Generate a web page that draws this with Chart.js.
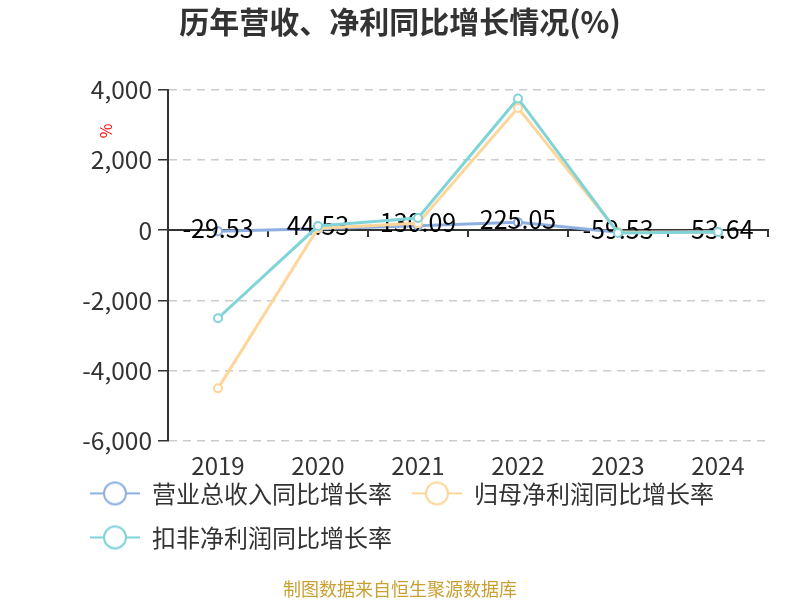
<!DOCTYPE html>
<html lang="zh">
<head>
  <meta charset="utf-8">
  <title>历年营收、净利同比增长情况</title>
  <style type="text/css">
    body { margin: 0; background: #ffffff; }
    #wrap { width: 800px; height: 600px; }
  </style>
  <script src="https://cdn.jsdelivr.net/npm/chart.js@4/dist/chart.umd.min.js"></script>
</head>
<body>
  <div id="wrap"><canvas id="graph" width="800" height="600"></canvas></div>
  <script>
    // data
    var years = ["2019", "2020", "2021", "2022", "2023", "2024"];
    var revenueGrowth = [-29.53, 44.53, 130.09, 225.05, -59.53, -53.64];
    var netProfitGrowth = [-4510, 60, 200, 3490, -60, -50];
    var deductedProfitGrowth = [-2510, 120, 350, 3760, -77, -50];
    var seriesNames = ["营业总收入同比增长率", "归母净利润同比增长率", "扣非净利润同比增长率"];
    var seriesColors = ["#8eb0e0", "#ffd699", "#80d4d8"];
    var yTicks = [4000, 2000, 0, -2000, -4000, -6000];

    var fontFamily = "'Noto Sans CJK SC', 'Noto Sans', sans-serif";
    Chart.defaults.font.family = fontFamily;
    Chart.defaults.color = "#333333";

    // legend icon: short line with a hollow circle, like the original
    function legendIcon(color) {
      var c = document.createElement('canvas');
      c.width = 50;
      c.height = 26;
      var g = c.getContext('2d');
      g.strokeStyle = color;
      g.lineWidth = 2;
      g.beginPath();
      g.moveTo(0, 13);
      g.lineTo(50, 13);
      g.stroke();
      g.fillStyle = '#ffffff';
      g.beginPath();
      g.arc(25, 13, 11, 0, Math.PI * 2);
      g.fill();
      g.stroke();
      return c;
    }
    var icons = seriesColors.map(legendIcon);

    // value labels for the revenue series, drawn right after that line
    var valueLabelPlugin = {
      id: 'valueLabels',
      afterDatasetDraw: function (chart, args) {
        if (args.index !== 0) {
          return;
        }
        var ctx = chart.ctx;
        var meta = chart.getDatasetMeta(0);
        ctx.save();
        ctx.fillStyle = '#000000';
        ctx.font = '25px ' + fontFamily;
        ctx.textAlign = 'center';
        ctx.textBaseline = 'middle';
        meta.data.forEach(function (el, i) {
          ctx.fillText(revenueGrowth[i].toFixed(2), el.x, el.y - 3);
        });
        ctx.restore();
      }
    };

    // red unit mark on the value axis
    var unitPlugin = {
      id: 'unitMark',
      afterDraw: function (chart) {
        var ctx = chart.ctx;
        ctx.save();
        ctx.translate(106, 131);
        ctx.rotate(-Math.PI / 2);
        ctx.fillStyle = '#ff0000';
        ctx.font = '16px ' + fontFamily;
        ctx.textAlign = 'center';
        ctx.textBaseline = 'middle';
        ctx.fillText('%', 0, 0);
        ctx.restore();
      }
    };

    // the x axis box is squeezed so the legend sits close; let its labels draw past it,
    // and push the legend rows in to line up under the axis labels
    var layoutTweakPlugin = {
      id: 'layoutTweak',
      afterLayout: function (chart) {
        chart.scales.x.bottom += 30;
        chart.legend.left += 38;
      }
    };

    function makeSet(i, values, order) {
      return {
        label: seriesNames[i],
        data: values,
        borderColor: seriesColors[i],
        backgroundColor: '#ffffff',
        borderWidth: 3,
        pointRadius: 4,
        pointBorderWidth: 2,
        pointBackgroundColor: '#ffffff',
        pointBorderColor: seriesColors[i],
        tension: 0,
        order: order
      };
    }

    var ctx = document.getElementById('graph').getContext('2d');
    window.myChart = new Chart(ctx, {
      type: 'line',
      data: {
        labels: years,
        datasets: [
          makeSet(0, revenueGrowth, 3),
          makeSet(1, netProfitGrowth, 2),
          makeSet(2, deductedProfitGrowth, 1)
        ]
      },
      options: {
        responsive: false,
        animation: false,
        layout: {
          padding: { left: 32, right: 32, top: 0, bottom: 0 }
        },
        scales: {
          x: {
            type: 'category',
            offset: true,
            border: { display: false },
            grid: { display: false },
            ticks: { font: { size: 24 }, color: '#333333', padding: 3 },
            afterFit: function (scale) {
              scale.height = scale.height - 22;
            }
          },
          xZero: {
            type: 'category',
            labels: years,
            position: { y: 0 },
            offset: true,
            border: { display: true, color: '#333333', width: 2 },
            grid: { drawOnChartArea: false, drawTicks: true, tickLength: 6, tickColor: '#333333', lineWidth: 2, offset: true },
            ticks: { display: false }
          },
          y: {
            min: -6000,
            max: 4000,
            afterBuildTicks: function (scale) {
              scale.ticks = yTicks.map(function (v) { return { value: v }; });
            },
            afterFit: function (scale) {
              scale.width = 136;
            },
            border: { display: true, color: '#333333', width: 2, dash: [8, 6] },
            grid: {
              color: '#cccccc',
              lineWidth: 1.5,
              tickColor: '#333333',
              tickLength: 10,
              tickBorderDash: [0, 0]
            },
            ticks: { font: { size: 24.5 }, color: '#333333', padding: 6 }
          }
        },
        plugins: {
          title: {
            display: true,
            text: '历年营收、净利同比增长情况(%)',
            font: { size: 30, weight: 'bold' },
            color: '#333333',
            padding: { top: 4, bottom: 50 }
          },
          subtitle: {
            display: true,
            position: 'bottom',
            text: '制图数据来自恒生聚源数据库',
            font: { size: 18 },
            color: '#c9a032',
            padding: { top: 19, bottom: 0 }
          },
          legend: {
            position: 'bottom',
            align: 'start',
            labels: {
              usePointStyle: true,
              pointStyleWidth: 50,
              padding: 20,
              font: { size: 24 },
              color: '#333333',
              generateLabels: function (chart) {
                return seriesNames.map(function (name, i) {
                  return {
                    text: name,
                    pointStyle: icons[i],
                    fillStyle: seriesColors[i],
                    strokeStyle: seriesColors[i],
                    fontColor: '#333333',
                    lineWidth: 0,
                    hidden: false,
                    datasetIndex: i
                  };
                });
              }
            }
          },
          tooltip: { enabled: false }
        }
      },
      plugins: [valueLabelPlugin, unitPlugin, layoutTweakPlugin]
    });
  </script>
</body>
</html>
